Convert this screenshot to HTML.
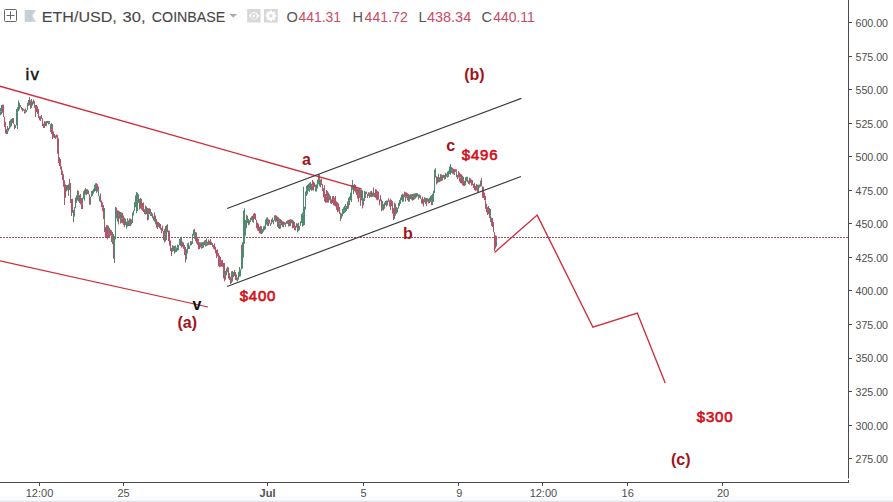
<!DOCTYPE html>
<html><head><meta charset="utf-8"><style>
html,body{margin:0;padding:0;background:#fff;width:893px;height:502px;overflow:hidden}
svg{display:block}
text{font-family:"Liberation Sans",Arial,sans-serif}
</style></head><body>
<svg width="893" height="502" viewBox="0 0 893 502">
<rect width="893" height="502" fill="#fff"/>
<rect y="496" width="893" height="4" fill="#fafbfc"/>
<rect y="500" width="893" height="1" fill="#f3f4f5"/>
<rect y="501" width="893" height="1" fill="#e5e6e9"/>
<!-- last price dotted line -->
<line x1="0" y1="237.5" x2="848" y2="237.5" stroke="#9c5163" stroke-width="1" stroke-dasharray="2 1"/>
<!-- candles -->
<g stroke-width="1"><path d="M0.5 108.0V111.3M0.5 111.3V115.2M1.5 111.7V114.4M1.5 105.0V111.7" stroke="#4e8a6f" fill="none"/><path d="M2.5 104.6V108.5M2.5 107.0V112.8M3.5 104.7V115.4M3.5 109.7V116.9M4.5 116.7V124.6M4.5 119.6V127.1M5.5 121.8V125.6M5.5 125.6V133.3M6.5 129.3V133.7" stroke="#b0566a" fill="none"/><path d="M6.5 129.4V134.0" stroke="#4e8a6f" fill="none"/><path d="M7.5 130.3V134.0M7.5 126.1V130.3" stroke="#b0566a" fill="none"/><path d="M8.5 129.4V131.3M8.5 127.9V130.0M9.5 125.6V129.1M9.5 121.0V125.6M10.5 123.4V127.4M10.5 119.6V124.7M11.5 123.6V126.2M11.5 118.9V124.6" stroke="#4e8a6f" fill="none"/><path d="M12.5 118.0V123.0" stroke="#b0566a" fill="none"/><path d="M12.5 118.0V121.6" stroke="#4e8a6f" fill="none"/><path d="M13.5 118.0V123.9M13.5 120.4V124.2M14.5 124.2V128.4M14.5 127.2V129.3" stroke="#b0566a" fill="none"/><path d="M15.5 125.0V128.0M15.5 125.3V127.1M16.5 117.5V125.3M16.5 109.0V118.2M17.5 112.5V129.0M17.5 107.2V112.5M18.5 105.2V111.3M18.5 100.5V106.1M19.5 106.1V109.5M19.5 102.8V106.1M20.5 105.0V107.2" stroke="#4e8a6f" fill="none"/><path d="M20.5 105.7V107.4M21.5 107.4V109.6M21.5 107.0V108.6M22.5 108.6V111.5" stroke="#b0566a" fill="none"/><path d="M22.5 108.2V110.0" stroke="#4e8a6f" fill="none"/><path d="M23.5 108.6V110.3M23.5 109.1V110.5M24.5 109.5V111.6M24.5 111.6V113.7" stroke="#b0566a" fill="none"/><path d="M25.5 110.7V113.1" stroke="#4e8a6f" fill="none"/><path d="M25.5 108.6V110.7" stroke="#b0566a" fill="none"/><path d="M26.5 110.1V111.9M26.5 109.9V111.3M27.5 107.0V110.1M27.5 102.8V107.0M28.5 100.4V103.1" stroke="#4e8a6f" fill="none"/><path d="M28.5 100.1V105.8" stroke="#b0566a" fill="none"/><path d="M29.5 98.8V105.4M29.5 97.0V100.2M30.5 100.2V105.3M30.5 103.2V109.0" stroke="#4e8a6f" fill="none"/><path d="M31.5 102.7V108.0M31.5 99.0V102.9" stroke="#b0566a" fill="none"/><path d="M32.5 102.8V105.6M32.5 101.4V103.9" stroke="#4e8a6f" fill="none"/><path d="M33.5 99.5V101.6M33.5 100.0V103.8M34.5 103.1V107.8" stroke="#b0566a" fill="none"/><path d="M34.5 101.1V105.0" stroke="#4e8a6f" fill="none"/><path d="M35.5 105.0V113.0M35.5 108.4V117.0M36.5 105.0V112.1M36.5 105.5V109.5M37.5 109.5V114.0M37.5 106.5V111.4M38.5 109.0V113.6M38.5 113.2V118.1M39.5 116.4V120.0M39.5 116.9V120.3M40.5 116.2V120.7M40.5 117.7V121.0M41.5 115.0V118.7M41.5 116.0V118.3M42.5 118.3V124.0M42.5 121.0V126.0M43.5 123.7V128.0M43.5 124.3V128.0M44.5 123.4V128.0M44.5 121.3V125.5" stroke="#b0566a" fill="none"/><path d="M45.5 122.1V126.0M45.5 121.5V124.1" stroke="#4e8a6f" fill="none"/><path d="M46.5 124.1V126.2" stroke="#b0566a" fill="none"/><path d="M46.5 121.0V124.1" stroke="#4e8a6f" fill="none"/><path d="M47.5 121.0V122.9M47.5 121.0V123.2M48.5 122.9V124.3" stroke="#b0566a" fill="none"/><path d="M48.5 121.0V122.9M49.5 121.0V122.5M49.5 122.5V124.1M50.5 124.1V128.0" stroke="#4e8a6f" fill="none"/><path d="M50.5 127.7V132.0M51.5 129.7V134.1" stroke="#b0566a" fill="none"/><path d="M51.5 123.2V129.7" stroke="#4e8a6f" fill="none"/><path d="M52.5 124.0V133.3M52.5 132.8V139.1M53.5 133.3V137.5M53.5 131.5V134.6M54.5 134.0V137.1M54.5 134.4V138.0M55.5 136.4V138.5" stroke="#b0566a" fill="none"/><path d="M55.5 135.4V138.6" stroke="#4e8a6f" fill="none"/><path d="M56.5 134.7V137.7M56.5 134.8V137.0M57.5 135.0V140.0M57.5 140.0V153.7M58.5 138.3V147.5M58.5 147.5V163.0M59.5 158.8V166.0M59.5 157.3V162.9M60.5 159.0V166.1M60.5 163.3V169.5M61.5 168.9V175.0M61.5 166.4V170.8M62.5 170.8V180.2M62.5 170.6V175.2M63.5 175.2V186.8M63.5 174.2V180.3M64.5 180.3V205.0M64.5 187.7V203.8M65.5 184.4V197.6M65.5 185.0V190.0" stroke="#b0566a" fill="none"/><path d="M66.5 185.4V191.4M66.5 185.2V188.9M67.5 185.1V190.3M67.5 185.0V189.7M68.5 189.7V196.0M68.5 184.4V192.0" stroke="#4e8a6f" fill="none"/><path d="M69.5 180.5V190.2M69.5 179.0V187.5M70.5 187.5V203.0M70.5 183.0V199.4M71.5 199.1V212.7M71.5 202.2V216.0M72.5 198.8V208.8M72.5 203.8V212.8M73.5 212.6V222.2" stroke="#b0566a" fill="none"/><path d="M73.5 210.0V219.4M74.5 207.5V216.6M74.5 207.1V213.8M75.5 197.5V207.1M75.5 203.0V208.2M76.5 195.3V203.0M76.5 196.8V202.8M77.5 195.1V200.5M77.5 190.3V195.1M78.5 195.1V201.5" stroke="#4e8a6f" fill="none"/><path d="M78.5 191.0V195.1M79.5 195.1V202.5M79.5 197.6V203.0M80.5 193.9V198.9M80.5 194.3V204.4M81.5 199.6V209.0M81.5 198.1V203.9M82.5 203.9V209.1" stroke="#b0566a" fill="none"/><path d="M82.5 197.7V203.9M83.5 192.0V198.6M83.5 191.2V196.0M84.5 195.8V200.6M84.5 189.6V195.8M85.5 188.8V194.7" stroke="#4e8a6f" fill="none"/><path d="M85.5 188.0V193.9" stroke="#b0566a" fill="none"/><path d="M86.5 189.2V194.3M86.5 191.5V195.4M87.5 189.2V193.0" stroke="#4e8a6f" fill="none"/><path d="M87.5 191.3V194.0M88.5 190.4V193.3M88.5 191.0V194.4M89.5 194.3V200.9M89.5 196.9V204.7M90.5 200.8V204.7" stroke="#b0566a" fill="none"/><path d="M90.5 196.8V202.9M91.5 192.3V196.8M91.5 191.0V194.5M92.5 190.5V195.0M92.5 193.4V195.8M93.5 188.7V193.4M93.5 189.8V193.7M94.5 187.3V191.8M94.5 184.7V187.7M95.5 183.3V186.4M95.5 185.9V191.0M96.5 188.0V192.8" stroke="#4e8a6f" fill="none"/><path d="M96.5 183.1V188.0M97.5 184.2V190.7M97.5 186.4V191.5M98.5 186.5V190.1" stroke="#b0566a" fill="none"/><path d="M98.5 190.1V196.3" stroke="#4e8a6f" fill="none"/><path d="M99.5 195.8V199.0" stroke="#b0566a" fill="none"/><path d="M99.5 196.2V201.3" stroke="#4e8a6f" fill="none"/><path d="M100.5 197.3V202.5M100.5 193.4V201.5M101.5 201.5V206.6M101.5 200.5V207.1M102.5 202.4V207.7M102.5 207.7V211.2M103.5 208.6V219.1M103.5 205.1V212.6" stroke="#b0566a" fill="none"/><path d="M104.5 208.0V219.8" stroke="#4e8a6f" fill="none"/><path d="M104.5 219.8V232.2" stroke="#b0566a" fill="none"/><path d="M105.5 227.1V234.8" stroke="#4e8a6f" fill="none"/><path d="M105.5 229.4V237.4M106.5 225.1V235.2M106.5 230.9V237.1M107.5 234.8V239.4M107.5 225.2V234.8" stroke="#b0566a" fill="none"/><path d="M108.5 225.8V233.5" stroke="#4e8a6f" fill="none"/><path d="M108.5 232.9V237.6M109.5 233.8V237.8M109.5 227.8V233.8M110.5 230.1V234.6M110.5 229.5V235.6M111.5 230.3V235.5M111.5 235.5V242.0M112.5 232.0V237.0" stroke="#b0566a" fill="none"/><path d="M112.5 233.0V244.2" stroke="#4e8a6f" fill="none"/><path d="M113.5 234.0V240.6M113.5 240.6V258.8" stroke="#b0566a" fill="none"/><path d="M114.5 236.0V252.9M114.5 239.4V263.0M115.5 213.9V239.4M115.5 207.0V221.3" stroke="#4e8a6f" fill="none"/><path d="M116.5 207.5V217.8" stroke="#b0566a" fill="none"/><path d="M116.5 211.5V218.5M117.5 212.7V221.5" stroke="#4e8a6f" fill="none"/><path d="M117.5 210.3V217.1M118.5 210.7V215.8M118.5 215.8V224.5" stroke="#b0566a" fill="none"/><path d="M119.5 211.3V218.7" stroke="#4e8a6f" fill="none"/><path d="M119.5 213.8V217.9" stroke="#b0566a" fill="none"/><path d="M120.5 212.0V219.4M120.5 216.4V223.6M121.5 212.4V218.3" stroke="#4e8a6f" fill="none"/><path d="M121.5 218.3V222.8M122.5 212.9V218.3M122.5 218.3V223.3M123.5 220.9V225.2M123.5 215.4V222.5M124.5 220.6V227.2M124.5 217.8V222.9M125.5 218.8V225.2" stroke="#b0566a" fill="none"/><path d="M125.5 218.7V224.7M126.5 224.7V228.7M126.5 221.7V228.0M127.5 218.2V221.7M127.5 221.7V226.7" stroke="#4e8a6f" fill="none"/><path d="M128.5 222.4V226.0" stroke="#b0566a" fill="none"/><path d="M128.5 220.4V224.8" stroke="#4e8a6f" fill="none"/><path d="M129.5 218.3V222.9" stroke="#b0566a" fill="none"/><path d="M129.5 222.8V226.0M130.5 218.7V222.8M130.5 221.6V226.0M131.5 219.8V223.6" stroke="#4e8a6f" fill="none"/><path d="M131.5 219.4V224.5" stroke="#b0566a" fill="none"/><path d="M132.5 220.0V223.0M132.5 212.5V220.0" stroke="#4e8a6f" fill="none"/><path d="M133.5 210.7V213.9" stroke="#b0566a" fill="none"/><path d="M133.5 210.8V215.5M134.5 205.6V210.8M134.5 202.2V210.9M135.5 198.8V207.2M135.5 195.4V201.9M136.5 201.9V213.0M136.5 192.0V201.9M137.5 192.8V199.6M137.5 199.6V211.0" stroke="#4e8a6f" fill="none"/><path d="M138.5 194.2V199.7" stroke="#b0566a" fill="none"/><path d="M138.5 195.0V202.9M139.5 202.0V209.5" stroke="#4e8a6f" fill="none"/><path d="M139.5 198.8V203.9M140.5 203.7V208.5M140.5 198.0V204.9" stroke="#b0566a" fill="none"/><path d="M141.5 198.9V204.6" stroke="#4e8a6f" fill="none"/><path d="M141.5 203.6V209.7M142.5 203.1V207.4M142.5 207.4V210.9M143.5 202.4V208.0M143.5 208.0V212.0M144.5 209.2V212.6M144.5 210.9V213.9M145.5 205.5V211.7" stroke="#b0566a" fill="none"/><path d="M145.5 207.8V214.5" stroke="#4e8a6f" fill="none"/><path d="M146.5 206.5V213.5M146.5 207.9V214.1M147.5 214.1V220.3" stroke="#b0566a" fill="none"/><path d="M147.5 207.9V215.4M148.5 214.7V219.8" stroke="#4e8a6f" fill="none"/><path d="M148.5 208.3V214.7" stroke="#b0566a" fill="none"/><path d="M149.5 208.4V214.2" stroke="#4e8a6f" fill="none"/><path d="M149.5 208.6V213.3" stroke="#b0566a" fill="none"/><path d="M150.5 213.3V215.9M150.5 208.9V213.3" stroke="#4e8a6f" fill="none"/><path d="M151.5 212.0V215.1" stroke="#b0566a" fill="none"/><path d="M151.5 213.1V216.2" stroke="#4e8a6f" fill="none"/><path d="M152.5 213.5V217.2M152.5 213.9V218.3M153.5 216.3V219.4" stroke="#b0566a" fill="none"/><path d="M153.5 217.4V220.5M154.5 217.2V221.6" stroke="#4e8a6f" fill="none"/><path d="M154.5 212.4V217.9" stroke="#b0566a" fill="none"/><path d="M155.5 217.9V224.4" stroke="#4e8a6f" fill="none"/><path d="M155.5 215.5V220.5M156.5 220.5V227.5M156.5 219.2V224.9M157.5 224.9V229.1M157.5 221.7V226.6M158.5 222.0V226.8M158.5 223.2V226.6M159.5 223.0V228.3" stroke="#b0566a" fill="none"/><path d="M159.5 223.5V227.6" stroke="#4e8a6f" fill="none"/><path d="M160.5 224.0V227.1M160.5 225.1V229.6M161.5 229.6V233.2M161.5 227.9V231.5M162.5 225.6V230.7M162.5 226.0V231.2M163.5 230.9V235.3M163.5 233.2V240.2M164.5 228.9V236.4M164.5 236.4V242.3" stroke="#b0566a" fill="none"/><path d="M165.5 234.3V241.5M165.5 226.0V234.3M166.5 232.6V240.0M166.5 225.1V234.0M167.5 224.7V232.3" stroke="#4e8a6f" fill="none"/><path d="M167.5 224.3V230.4M168.5 230.4V238.9M168.5 235.3V241.2M169.5 230.8V236.0M169.5 236.0V245.7M170.5 240.4V248.0M170.5 247.1V251.1M171.5 248.5V254.2M171.5 248.1V256.0M172.5 245.1V251.7" stroke="#b0566a" fill="none"/><path d="M172.5 245.5V249.8" stroke="#4e8a6f" fill="none"/><path d="M173.5 245.8V250.9" stroke="#b0566a" fill="none"/><path d="M173.5 246.2V251.1M174.5 249.8V253.5M174.5 245.9V250.1" stroke="#4e8a6f" fill="none"/><path d="M175.5 245.6V248.5" stroke="#b0566a" fill="none"/><path d="M175.5 248.3V252.3M176.5 247.8V251.9M176.5 247.7V251.5M177.5 244.4V247.7M177.5 247.6V250.7M178.5 245.4V250.1M178.5 245.4V249.5M179.5 240.0V245.4M179.5 238.9V244.9M180.5 237.8V240.8M180.5 240.1V245.9M181.5 236.7V243.0" stroke="#4e8a6f" fill="none"/><path d="M181.5 241.8V247.7M182.5 241.5V246.1M182.5 242.6V246.8M183.5 242.5V246.3M183.5 243.9V248.8M184.5 245.0V249.1M184.5 246.1V254.9M185.5 247.1V252.1M185.5 252.1V262.4" stroke="#b0566a" fill="none"/><path d="M186.5 255.0V259.5M186.5 249.1V256.0M187.5 247.4V253.4M187.5 243.3V247.4M188.5 244.8V249.0M188.5 242.5V246.2M189.5 246.2V248.9M189.5 245.6V248.3M190.5 241.4V245.6" stroke="#4e8a6f" fill="none"/><path d="M190.5 241.0V243.6" stroke="#b0566a" fill="none"/><path d="M191.5 241.5V245.0M191.5 241.6V245.2M192.5 240.3V243.9M192.5 233.9V240.3M193.5 231.5V235.0M193.5 229.6V235.5M194.5 233.9V238.8" stroke="#4e8a6f" fill="none"/><path d="M194.5 228.9V233.9" stroke="#b0566a" fill="none"/><path d="M195.5 231.9V235.8" stroke="#4e8a6f" fill="none"/><path d="M195.5 235.8V241.2M196.5 232.5V237.5M196.5 237.5V243.5M197.5 240.9V244.9M197.5 237.1V242.8M198.5 238.8V241.6M198.5 241.6V249.3M199.5 242.3V246.6M199.5 245.8V249.1" stroke="#b0566a" fill="none"/><path d="M200.5 242.3V245.8" stroke="#4e8a6f" fill="none"/><path d="M200.5 245.1V247.4M201.5 246.4V248.7" stroke="#b0566a" fill="none"/><path d="M201.5 242.3V246.4M202.5 242.3V246.0" stroke="#4e8a6f" fill="none"/><path d="M202.5 245.8V248.2" stroke="#b0566a" fill="none"/><path d="M203.5 241.8V245.8M203.5 245.1V247.7" stroke="#4e8a6f" fill="none"/><path d="M204.5 240.9V245.1M204.5 240.5V244.1M205.5 240.0V242.3" stroke="#b0566a" fill="none"/><path d="M205.5 242.3V246.4M206.5 243.5V246.1M206.5 238.6V243.5" stroke="#4e8a6f" fill="none"/><path d="M207.5 242.3V245.4" stroke="#b0566a" fill="none"/><path d="M207.5 241.7V245.1M208.5 242.6V245.0" stroke="#4e8a6f" fill="none"/><path d="M208.5 239.6V243.3" stroke="#b0566a" fill="none"/><path d="M209.5 241.3V245.0" stroke="#4e8a6f" fill="none"/><path d="M209.5 240.8V244.4M210.5 241.3V245.0M210.5 239.0V241.7M211.5 241.7V245.0" stroke="#b0566a" fill="none"/><path d="M211.5 241.9V245.0" stroke="#4e8a6f" fill="none"/><path d="M212.5 243.1V245.9M212.5 243.8V246.9M213.5 245.1V247.8M213.5 245.2V248.8M214.5 247.0V249.7M214.5 243.4V248.8M215.5 246.7V251.6M215.5 248.0V253.4M216.5 250.0V255.7M216.5 253.8V258.1M217.5 249.3V255.6M217.5 252.0V256.4M218.5 253.2V258.1M218.5 258.1V266.2M219.5 255.6V260.2M219.5 260.2V267.3M220.5 257.0V262.8M220.5 262.8V266.8M221.5 262.1V266.5M221.5 260.2V263.1M222.5 261.0V266.9M222.5 259.8V265.9M223.5 262.9V269.1M223.5 269.1V278.3M224.5 275.6V281.4M224.5 263.0V275.6M225.5 272.5V279.7" stroke="#b0566a" fill="none"/><path d="M225.5 271.0V276.9M226.5 268.5V275.3M226.5 269.2V274.7M227.5 269.8V272.4" stroke="#4e8a6f" fill="none"/><path d="M227.5 266.7V269.8M228.5 267.4V273.0M228.5 272.1V278.5M229.5 273.1V279.9M229.5 273.8V280.1M230.5 278.0V282.6M230.5 276.7V284.0" stroke="#b0566a" fill="none"/><path d="M231.5 271.4V277.6M231.5 277.6V283.2M232.5 270.9V277.6" stroke="#4e8a6f" fill="none"/><path d="M232.5 276.5V281.7" stroke="#b0566a" fill="none"/><path d="M233.5 273.9V277.0M233.5 272.0V277.2" stroke="#4e8a6f" fill="none"/><path d="M234.5 270.0V276.0M234.5 270.0V274.7M235.5 272.0V276.8M235.5 275.8V279.9M236.5 277.8V280.4M236.5 274.5V277.8" stroke="#b0566a" fill="none"/><path d="M237.5 277.5V281.2M237.5 277.8V281.4M238.5 271.8V277.8M238.5 275.5V279.7M239.5 272.0V276.8M239.5 267.0V272.0M240.5 269.9V276.4M240.5 269.4V275.0M241.5 251.0V269.4" stroke="#4e8a6f" fill="none"/><path d="M241.5 244.8V252.6" stroke="#b0566a" fill="none"/><path d="M242.5 252.6V268.7M242.5 242.3V264.6M243.5 237.9V257.7M243.5 210.6V237.9M244.5 226.9V243.8M244.5 208.3V226.9M245.5 220.0V235.7M245.5 220.7V232.3M246.5 214.6V220.7M246.5 220.7V228.2M247.5 215.7V223.1" stroke="#4e8a6f" fill="none"/><path d="M247.5 216.2V219.5" stroke="#b0566a" fill="none"/><path d="M248.5 218.8V223.5" stroke="#4e8a6f" fill="none"/><path d="M248.5 221.8V225.2" stroke="#b0566a" fill="none"/><path d="M249.5 220.3V224.5M249.5 222.0V223.8M250.5 218.3V222.0" stroke="#4e8a6f" fill="none"/><path d="M250.5 217.7V220.5" stroke="#b0566a" fill="none"/><path d="M251.5 217.5V219.5M251.5 216.3V219.9" stroke="#4e8a6f" fill="none"/><path d="M252.5 215.7V218.3" stroke="#b0566a" fill="none"/><path d="M252.5 217.5V221.8M253.5 218.3V222.7" stroke="#4e8a6f" fill="none"/><path d="M253.5 213.7V219.3" stroke="#b0566a" fill="none"/><path d="M254.5 213.0V218.3" stroke="#4e8a6f" fill="none"/><path d="M254.5 213.4V219.0M255.5 213.7V219.9M255.5 214.4V219.8M256.5 219.8V227.1M256.5 223.9V228.2M257.5 222.6V229.4M257.5 224.8V230.5M258.5 223.6V231.2M258.5 225.4V229.4M259.5 227.7V232.6M259.5 226.8V233.3M260.5 225.8V230.5M260.5 228.9V233.8M261.5 226.4V229.0" stroke="#b0566a" fill="none"/><path d="M261.5 229.0V234.1" stroke="#4e8a6f" fill="none"/><path d="M262.5 229.2V233.4" stroke="#b0566a" fill="none"/><path d="M262.5 229.7V232.3M263.5 226.3V230.1M263.5 228.9V231.7M264.5 225.8V229.0M264.5 226.5V230.1M265.5 226.2V229.2M265.5 219.6V226.2M266.5 217.7V223.2M266.5 218.9V224.6M267.5 217.4V221.7M267.5 221.7V226.0" stroke="#4e8a6f" fill="none"/><path d="M268.5 222.3V226.0M268.5 219.2V222.3M269.5 219.8V222.5M269.5 220.4V223.6" stroke="#b0566a" fill="none"/><path d="M270.5 223.6V226.0M270.5 223.4V225.2" stroke="#4e8a6f" fill="none"/><path d="M271.5 219.3V223.4M271.5 221.4V224.3" stroke="#b0566a" fill="none"/><path d="M272.5 218.2V222.4M272.5 217.6V220.2" stroke="#4e8a6f" fill="none"/><path d="M273.5 220.2V224.3" stroke="#b0566a" fill="none"/><path d="M273.5 220.2V223.7M274.5 215.9V220.2M274.5 215.3V220.5M275.5 217.6V222.0" stroke="#4e8a6f" fill="none"/><path d="M275.5 215.2V219.2" stroke="#b0566a" fill="none"/><path d="M276.5 215.6V221.5" stroke="#4e8a6f" fill="none"/><path d="M276.5 216.0V219.7M277.5 216.6V222.6M277.5 221.4V226.9M278.5 217.3V221.4M278.5 221.4V228.3" stroke="#b0566a" fill="none"/><path d="M279.5 223.5V229.0M279.5 218.6V223.5M280.5 219.0V223.6M280.5 223.6V228.6M281.5 219.9V224.5" stroke="#4e8a6f" fill="none"/><path d="M281.5 220.3V225.2M282.5 221.2V225.5M282.5 224.8V227.0M283.5 221.6V224.8" stroke="#b0566a" fill="none"/><path d="M283.5 224.8V227.2" stroke="#4e8a6f" fill="none"/><path d="M284.5 222.2V224.8M284.5 222.0V224.4" stroke="#b0566a" fill="none"/><path d="M285.5 224.4V226.9M285.5 222.6V224.7" stroke="#4e8a6f" fill="none"/><path d="M286.5 221.2V223.8M286.5 221.2V223.1" stroke="#b0566a" fill="none"/><path d="M287.5 220.8V223.9M287.5 220.5V222.9" stroke="#4e8a6f" fill="none"/><path d="M288.5 222.9V226.4M288.5 220.0V222.9" stroke="#b0566a" fill="none"/><path d="M289.5 222.9V226.3" stroke="#4e8a6f" fill="none"/><path d="M289.5 219.5V223.8" stroke="#b0566a" fill="none"/><path d="M290.5 219.2V222.1M290.5 221.9V226.1" stroke="#4e8a6f" fill="none"/><path d="M291.5 219.9V223.3M291.5 219.4V222.1" stroke="#b0566a" fill="none"/><path d="M292.5 219.8V224.2" stroke="#4e8a6f" fill="none"/><path d="M292.5 224.2V228.3M293.5 220.7V224.2M293.5 223.3V227.9M294.5 227.3V230.1M294.5 221.9V227.3M295.5 226.8V230.5M295.5 225.8V228.5M296.5 223.2V226.8" stroke="#b0566a" fill="none"/><path d="M296.5 223.6V227.6" stroke="#4e8a6f" fill="none"/><path d="M297.5 223.7V228.4" stroke="#b0566a" fill="none"/><path d="M297.5 228.2V232.3M298.5 226.4V231.1M298.5 222.7V227.2M299.5 227.2V230.1M299.5 226.0V229.7M300.5 222.8V226.0M300.5 221.3V223.7M301.5 221.0V223.1M301.5 214.1V221.0M302.5 216.9V226.6M302.5 212.7V221.4M303.5 214.7V225.8M303.5 186.7V214.7M304.5 211.7V225.0M304.5 206.8V217.8M305.5 201.0V209.5M305.5 191.5V201.0M306.5 189.8V196.0M306.5 185.7V189.8M307.5 188.3V194.3M307.5 184.8V190.2M308.5 185.1V190.8M308.5 183.8V188.4M309.5 188.4V191.9" stroke="#4e8a6f" fill="none"/><path d="M309.5 182.8V188.4M310.5 184.7V189.8" stroke="#b0566a" fill="none"/><path d="M310.5 181.9V187.5M311.5 187.0V190.8M311.5 183.8V188.6" stroke="#4e8a6f" fill="none"/><path d="M312.5 185.4V190.3M312.5 180.0V185.4M313.5 185.4V190.7M313.5 181.6V186.2M314.5 182.6V187.0M314.5 183.7V186.6" stroke="#b0566a" fill="none"/><path d="M315.5 184.7V187.8M315.5 187.8V191.5M316.5 184.3V188.9M316.5 187.1V191.5M317.5 179.6V187.1M317.5 184.3V188.6M318.5 174.9V184.3M318.5 174.0V181.0" stroke="#4e8a6f" fill="none"/><path d="M319.5 174.6V179.9" stroke="#b0566a" fill="none"/><path d="M319.5 179.9V186.3M320.5 179.6V182.9" stroke="#4e8a6f" fill="none"/><path d="M320.5 182.9V187.3M321.5 178.6V182.9M321.5 179.6V185.0M322.5 185.0V191.2M322.5 184.2V191.0M323.5 188.3V195.3M323.5 189.7V197.3M324.5 185.2V190.1M324.5 190.1V201.4M325.5 195.0V202.6M325.5 194.0V202.6M326.5 196.5V202.6M326.5 190.0V196.5M327.5 190.9V196.0M327.5 196.0V202.6" stroke="#b0566a" fill="none"/><path d="M328.5 192.6V196.2M328.5 196.2V202.6" stroke="#4e8a6f" fill="none"/><path d="M329.5 194.3V199.5M329.5 195.8V200.2" stroke="#b0566a" fill="none"/><path d="M330.5 196.0V200.3" stroke="#4e8a6f" fill="none"/><path d="M330.5 199.7V203.3M331.5 199.3V203.6M331.5 200.1V204.0M332.5 196.0V200.1M332.5 199.4V203.0M333.5 196.0V199.4M333.5 199.4V205.3M334.5 199.5V205.7M334.5 197.7V202.8M335.5 196.0V202.6M335.5 199.3V206.5M336.5 202.9V209.8M336.5 201.4V208.7M337.5 207.7V212.3M337.5 202.3V207.7M338.5 203.5V209.5M338.5 205.1V211.4M339.5 206.9V213.9M339.5 208.8V212.5M340.5 212.5V221.0" stroke="#b0566a" fill="none"/><path d="M340.5 215.2V219.8" stroke="#4e8a6f" fill="none"/><path d="M341.5 214.0V218.7" stroke="#b0566a" fill="none"/><path d="M341.5 213.5V217.5M342.5 213.8V216.3M342.5 209.0V213.8M343.5 210.6V214.0M343.5 207.3V210.6M344.5 210.3V213.0M344.5 205.7V210.3M345.5 207.6V211.9M345.5 204.0V207.6" stroke="#4e8a6f" fill="none"/><path d="M346.5 206.2V210.9" stroke="#b0566a" fill="none"/><path d="M346.5 206.7V210.4M347.5 206.4V209.0M347.5 201.5V206.9" stroke="#4e8a6f" fill="none"/><path d="M348.5 202.6V208.6" stroke="#b0566a" fill="none"/><path d="M348.5 197.8V202.6M349.5 196.5V200.2M349.5 200.2V205.2M350.5 193.9V200.2M350.5 192.6V199.2M351.5 198.0V201.9M351.5 185.2V198.0M352.5 180.0V189.8M352.5 180.0V184.9M353.5 184.9V193.8M353.5 189.8V194.1" stroke="#4e8a6f" fill="none"/><path d="M354.5 183.9V189.8M354.5 184.7V191.2M355.5 185.0V190.7M355.5 189.0V192.6M356.5 187.0V191.1M356.5 191.1V194.9M357.5 194.5V198.5M357.5 188.4V195.2M358.5 188.6V194.6M358.5 194.6V202.1" stroke="#b0566a" fill="none"/><path d="M359.5 188.9V194.8" stroke="#4e8a6f" fill="none"/><path d="M359.5 192.3V197.9M360.5 197.9V205.8" stroke="#b0566a" fill="none"/><path d="M360.5 189.5V197.9M361.5 189.7V197.3" stroke="#4e8a6f" fill="none"/><path d="M361.5 189.9V200.4M362.5 197.1V208.4" stroke="#b0566a" fill="none"/><path d="M362.5 190.3V200.3M363.5 200.3V205.4M363.5 198.3V203.9M364.5 190.9V198.3M364.5 196.8V201.0M365.5 195.3V198.0M365.5 191.5V195.3M366.5 191.7V194.0" stroke="#4e8a6f" fill="none"/><path d="M366.5 191.9V193.8M367.5 193.8V196.4M367.5 195.7V198.0M368.5 192.4V195.7" stroke="#b0566a" fill="none"/><path d="M368.5 192.6V195.7M369.5 194.9V198.0" stroke="#4e8a6f" fill="none"/><path d="M369.5 192.6V194.9" stroke="#b0566a" fill="none"/><path d="M370.5 194.7V196.9" stroke="#4e8a6f" fill="none"/><path d="M370.5 191.3V194.8" stroke="#b0566a" fill="none"/><path d="M371.5 190.7V194.6" stroke="#4e8a6f" fill="none"/><path d="M371.5 192.7V197.2M372.5 192.9V196.9" stroke="#b0566a" fill="none"/><path d="M372.5 192.6V196.7M373.5 191.9V196.5" stroke="#4e8a6f" fill="none"/><path d="M373.5 187.5V193.0M374.5 193.0V196.6M374.5 193.6V197.2M375.5 193.0V197.9M375.5 189.1V193.0M376.5 189.6V193.1M376.5 193.1V199.7M377.5 196.6V200.4M377.5 191.1V197.3M378.5 191.7V197.7M378.5 195.4V199.6M379.5 199.5V203.4M379.5 199.9V205.3M380.5 195.1V199.9M380.5 196.6V201.2M381.5 201.2V211.1M381.5 199.5V204.1" stroke="#b0566a" fill="none"/><path d="M382.5 201.0V206.1M382.5 206.1V210.3M383.5 204.1V209.4M383.5 206.5V210.4" stroke="#4e8a6f" fill="none"/><path d="M384.5 202.4V206.5M384.5 205.2V208.8" stroke="#b0566a" fill="none"/><path d="M385.5 201.5V205.2M385.5 201.0V203.4M386.5 200.5V204.5M386.5 203.0V206.5M387.5 201.7V205.5M387.5 200.5V202.9" stroke="#4e8a6f" fill="none"/><path d="M388.5 198.7V201.9M388.5 198.2V200.7M389.5 200.4V204.0M389.5 201.4V206.7M390.5 198.8V202.2M390.5 202.2V210.0" stroke="#b0566a" fill="none"/><path d="M391.5 200.3V205.7" stroke="#4e8a6f" fill="none"/><path d="M391.5 200.2V206.2M392.5 206.2V213.6M392.5 201.2V208.1M393.5 208.1V218.3M393.5 211.9V220.0M394.5 202.6V213.3" stroke="#b0566a" fill="none"/><path d="M394.5 211.6V218.8M395.5 203.7V211.6" stroke="#4e8a6f" fill="none"/><path d="M395.5 210.1V215.7" stroke="#b0566a" fill="none"/><path d="M396.5 207.0V213.6M396.5 211.0V213.7" stroke="#4e8a6f" fill="none"/><path d="M397.5 209.6V212.5" stroke="#b0566a" fill="none"/><path d="M397.5 207.8V211.2M398.5 202.8V207.8M398.5 204.7V208.6M399.5 200.1V204.7M399.5 202.8V206.1M400.5 197.6V202.8M400.5 199.4V203.8M401.5 195.6V200.3M401.5 194.7V198.7M402.5 193.7V198.0M402.5 198.0V202.0M403.5 198.3V201.5" stroke="#4e8a6f" fill="none"/><path d="M403.5 194.4V198.7M404.5 191.7V197.1M404.5 191.9V197.1M405.5 192.2V196.3" stroke="#b0566a" fill="none"/><path d="M405.5 196.3V201.6M406.5 192.7V197.9" stroke="#4e8a6f" fill="none"/><path d="M406.5 192.9V196.8M407.5 193.2V196.5M407.5 196.4V200.3" stroke="#b0566a" fill="none"/><path d="M408.5 197.4V201.7" stroke="#4e8a6f" fill="none"/><path d="M408.5 193.9V198.7" stroke="#b0566a" fill="none"/><path d="M409.5 194.7V199.1M409.5 197.0V201.6" stroke="#4e8a6f" fill="none"/><path d="M410.5 194.6V198.7M410.5 194.4V199.0" stroke="#b0566a" fill="none"/><path d="M411.5 194.3V198.4M411.5 196.5V199.8" stroke="#4e8a6f" fill="none"/><path d="M412.5 194.0V196.5" stroke="#b0566a" fill="none"/><path d="M412.5 196.5V200.8M413.5 193.8V197.4" stroke="#4e8a6f" fill="none"/><path d="M413.5 196.1V200.0" stroke="#b0566a" fill="none"/><path d="M414.5 193.5V197.1" stroke="#4e8a6f" fill="none"/><path d="M414.5 197.1V199.3" stroke="#b0566a" fill="none"/><path d="M415.5 193.2V197.1M415.5 195.4V198.6" stroke="#4e8a6f" fill="none"/><path d="M416.5 193.0V195.4" stroke="#b0566a" fill="none"/><path d="M416.5 195.0V197.3" stroke="#4e8a6f" fill="none"/><path d="M417.5 193.4V195.7" stroke="#b0566a" fill="none"/><path d="M417.5 193.7V196.5" stroke="#4e8a6f" fill="none"/><path d="M418.5 196.5V199.6" stroke="#b0566a" fill="none"/><path d="M418.5 194.3V196.8M419.5 194.6V197.5M419.5 195.1V197.7" stroke="#4e8a6f" fill="none"/><path d="M420.5 195.3V198.4M420.5 195.5V198.6" stroke="#b0566a" fill="none"/><path d="M421.5 198.6V202.7" stroke="#4e8a6f" fill="none"/><path d="M421.5 199.8V203.5M422.5 199.7V204.2M422.5 196.5V200.1M423.5 199.2V204.6M423.5 201.1V206.5M424.5 197.3V202.3" stroke="#b0566a" fill="none"/><path d="M424.5 197.5V201.7M425.5 200.2V204.0M425.5 197.8V201.2" stroke="#4e8a6f" fill="none"/><path d="M426.5 198.0V200.9M426.5 200.9V206.2" stroke="#b0566a" fill="none"/><path d="M427.5 198.4V201.5" stroke="#4e8a6f" fill="none"/><path d="M427.5 198.5V201.5M428.5 199.9V203.4" stroke="#b0566a" fill="none"/><path d="M428.5 198.7V202.1" stroke="#4e8a6f" fill="none"/><path d="M429.5 199.3V203.0" stroke="#b0566a" fill="none"/><path d="M429.5 197.6V201.2M430.5 196.6V201.9M430.5 195.9V198.8M431.5 195.2V200.6" stroke="#4e8a6f" fill="none"/><path d="M431.5 200.6V205.2" stroke="#b0566a" fill="none"/><path d="M432.5 193.7V200.6M432.5 197.4V205.1M433.5 190.7V200.4M433.5 193.0V201.8M434.5 169.7V193.0M434.5 175.3V186.0M435.5 168.2V177.5M435.5 169.3V176.3" stroke="#4e8a6f" fill="none"/><path d="M436.5 176.3V184.4" stroke="#b0566a" fill="none"/><path d="M436.5 179.1V183.9" stroke="#4e8a6f" fill="none"/><path d="M437.5 176.8V183.3M437.5 179.9V182.9" stroke="#b0566a" fill="none"/><path d="M438.5 173.7V179.9M438.5 179.4V182.4M439.5 177.3V182.2" stroke="#4e8a6f" fill="none"/><path d="M439.5 177.9V181.9M440.5 174.2V178.0M440.5 178.0V181.5M441.5 174.4V178.3" stroke="#b0566a" fill="none"/><path d="M441.5 176.8V181.0M442.5 175.1V178.0" stroke="#4e8a6f" fill="none"/><path d="M442.5 177.8V180.5M443.5 175.6V177.9" stroke="#b0566a" fill="none"/><path d="M443.5 174.6V176.4M444.5 176.4V179.7M444.5 175.0V177.1" stroke="#4e8a6f" fill="none"/><path d="M445.5 177.0V179.1M445.5 172.8V177.0" stroke="#b0566a" fill="none"/><path d="M446.5 174.3V176.7M446.5 173.7V176.3M447.5 171.6V175.5M447.5 175.5V177.7M448.5 170.7V175.5M448.5 173.9V176.9M449.5 169.0V173.9M449.5 166.5V170.9M450.5 168.7V174.8M450.5 164.0V170.2M451.5 169.8V172.8M451.5 167.0V171.2" stroke="#4e8a6f" fill="none"/><path d="M452.5 167.7V170.7M452.5 170.7V173.7M453.5 168.8V172.0M453.5 172.0V174.5" stroke="#b0566a" fill="none"/><path d="M454.5 172.7V174.9" stroke="#4e8a6f" fill="none"/><path d="M454.5 169.1V172.7M455.5 169.9V171.8M455.5 169.3V171.6M456.5 169.4V171.7" stroke="#b0566a" fill="none"/><path d="M456.5 171.7V177.2" stroke="#4e8a6f" fill="none"/><path d="M457.5 174.9V178.1M457.5 176.3V179.0" stroke="#b0566a" fill="none"/><path d="M458.5 170.9V176.3" stroke="#4e8a6f" fill="none"/><path d="M458.5 171.5V177.5M459.5 177.5V181.6M459.5 172.6V177.5M460.5 177.5V183.2M460.5 173.7V177.5M461.5 174.4V180.3M461.5 177.4V183.5" stroke="#b0566a" fill="none"/><path d="M462.5 175.6V178.9" stroke="#4e8a6f" fill="none"/><path d="M462.5 178.9V185.2" stroke="#b0566a" fill="none"/><path d="M463.5 176.8V181.1" stroke="#4e8a6f" fill="none"/><path d="M463.5 181.1V186.0M464.5 182.0V186.0" stroke="#b0566a" fill="none"/><path d="M464.5 180.8V185.6" stroke="#4e8a6f" fill="none"/><path d="M465.5 182.0V185.2" stroke="#b0566a" fill="none"/><path d="M465.5 177.3V182.0M466.5 177.1V179.7M466.5 176.9V181.3M467.5 176.7V179.7" stroke="#4e8a6f" fill="none"/><path d="M467.5 179.7V182.3" stroke="#b0566a" fill="none"/><path d="M468.5 181.5V183.6M468.5 180.5V184.0" stroke="#4e8a6f" fill="none"/><path d="M469.5 177.7V181.9M469.5 180.7V184.6M470.5 178.5V182.7M470.5 178.9V182.5M471.5 182.5V185.7M471.5 179.6V183.0M472.5 180.0V183.3M472.5 182.5V185.2M473.5 184.7V188.1M473.5 184.0V186.6M474.5 182.9V186.6M474.5 185.7V190.2" stroke="#b0566a" fill="none"/><path d="M475.5 185.8V190.5" stroke="#4e8a6f" fill="none"/><path d="M475.5 187.3V190.8" stroke="#b0566a" fill="none"/><path d="M476.5 184.0V187.3" stroke="#4e8a6f" fill="none"/><path d="M476.5 186.9V190.4M477.5 184.7V187.3M477.5 187.3V192.2" stroke="#b0566a" fill="none"/><path d="M478.5 187.8V192.0M478.5 184.7V188.5M479.5 184.7V187.3M479.5 184.7V187.5M480.5 182.6V186.8M480.5 180.5V186.0" stroke="#4e8a6f" fill="none"/><path d="M481.5 179.1V183.5M481.5 178.0V186.3M482.5 186.3V194.8M482.5 193.3V197.8M483.5 186.8V194.1M483.5 191.4V198.0M484.5 192.7V198.8M484.5 193.8V200.2M485.5 196.0V200.6M485.5 200.6V208.8" stroke="#b0566a" fill="none"/><path d="M486.5 203.6V210.6" stroke="#4e8a6f" fill="none"/><path d="M486.5 206.5V212.3M487.5 207.1V214.0M487.5 208.3V215.0M488.5 208.8V214.1M488.5 206.0V210.8M489.5 210.8V218.0" stroke="#b0566a" fill="none"/><path d="M489.5 208.0V211.8M490.5 209.0V215.4M490.5 215.2V222.0" stroke="#4e8a6f" fill="none"/><path d="M491.5 217.5V224.0M491.5 222.2V226.0M492.5 220.9V226.9M492.5 218.0V222.2M493.5 222.2V228.4M493.5 224.1V232.2M494.5 232.2V251.0M494.5 232.2V238.6M495.5 235.3V245.3M495.5 243.9V248.6" stroke="#b0566a" fill="none"/><path d="M496.5 240.9V246.4" stroke="#4e8a6f" fill="none"/><path d="M496.5 235.8V240.9" stroke="#b0566a" fill="none"/></g>
<!-- trend lines -->
<line x1="0" y1="86.2" x2="361.6" y2="188.8" stroke="#cf2c3b" stroke-width="1.35"/>
<line x1="0" y1="260.9" x2="208" y2="307" stroke="#cf2c3b" stroke-width="1.2"/>
<line x1="227.1" y1="208.5" x2="521.3" y2="98.4" stroke="#3c3c3c" stroke-width="1.2"/>
<line x1="227.1" y1="286.5" x2="521" y2="176.5" stroke="#3c3c3c" stroke-width="1.2"/>
<polyline points="494.5,252.4 537.2,215.1 592.9,327.2 637.3,313 665.2,383.1" fill="none" stroke="#cf2c3b" stroke-width="1.35"/>
<!-- labels -->
<g font-weight="bold" font-size="16">
<text x="25.6" y="79.6" fill="#111" font-weight="normal" font-size="17" stroke="#111" stroke-width="0.45" letter-spacing="1.2">iv</text>
<text x="192.6" y="309.5" fill="#111">v</text>
<text x="177.5" y="327.5" fill="#a3131b">(a)</text>
<text x="302" y="164.7" fill="#a3131b">a</text>
<text x="403" y="239" fill="#a3131b">b</text>
<text x="446.2" y="150.8" fill="#a3131b">c</text>
<text x="464.2" y="79.8" fill="#a3131b">(b)</text>
<text x="671" y="464.5" fill="#a3131b">(c)</text>
</g>
<g font-size="15" fill="#d3101b" stroke="#d3101b" stroke-width="0.65" letter-spacing="0.8">
<text x="239.7" y="300.5">$400</text>
<text x="461.8" y="159.9">$496</text>
<text x="696.8" y="421.8">$300</text>
</g>
<!-- axes -->
<path d="M848.5 0V478.5M0 482.5H849M848.5 480V482.5 M848 22.5H852M848 56.5H852M848 89.5H852M848 123.5H852M848 156.5H852M848 190.5H852M848 223.5H852M848 257.5H852M848 290.5H852M848 324.5H852M848 358.5H852M848 391.5H852M848 425.5H852M848 458.5H852 M39.5 482V486M123.5 482V486M267.5 482V486M363.5 482V486M458.5 482V486M542.5 482V486M627.5 482V486M722.5 482V486" stroke="#4a4a4a" stroke-width="1" fill="none"/>
<g font-size="11" fill="#4e4e4e">
<text x="855.5" y="27.1" textLength="32.5" lengthAdjust="spacingAndGlyphs">600.00</text>
<text x="855.5" y="60.6" textLength="32.5" lengthAdjust="spacingAndGlyphs">575.00</text>
<text x="855.5" y="94.2" textLength="32.5" lengthAdjust="spacingAndGlyphs">550.00</text>
<text x="855.5" y="127.7" textLength="32.5" lengthAdjust="spacingAndGlyphs">525.00</text>
<text x="855.5" y="161.2" textLength="32.5" lengthAdjust="spacingAndGlyphs">500.00</text>
<text x="855.5" y="194.8" textLength="32.5" lengthAdjust="spacingAndGlyphs">475.00</text>
<text x="855.5" y="228.3" textLength="32.5" lengthAdjust="spacingAndGlyphs">450.00</text>
<text x="855.5" y="261.8" textLength="32.5" lengthAdjust="spacingAndGlyphs">425.00</text>
<text x="855.5" y="295.3" textLength="32.5" lengthAdjust="spacingAndGlyphs">400.00</text>
<text x="855.5" y="328.9" textLength="32.5" lengthAdjust="spacingAndGlyphs">375.00</text>
<text x="855.5" y="362.4" textLength="32.5" lengthAdjust="spacingAndGlyphs">350.00</text>
<text x="855.5" y="395.9" textLength="32.5" lengthAdjust="spacingAndGlyphs">325.00</text>
<text x="855.5" y="429.5" textLength="32.5" lengthAdjust="spacingAndGlyphs">300.00</text>
<text x="855.5" y="463.0" textLength="32.5" lengthAdjust="spacingAndGlyphs">275.00</text>
<text x="39.5" y="496.8" text-anchor="middle">12:00</text>
<text x="123.5" y="496.8" text-anchor="middle">25</text>
<text x="267.5" y="496.8" text-anchor="middle" font-weight="bold">Jul</text>
<text x="363.6" y="496.8" text-anchor="middle">5</text>
<text x="459.2" y="496.8" text-anchor="middle">9</text>
<text x="543.4" y="496.8" text-anchor="middle">12:00</text>
<text x="627.7" y="496.8" text-anchor="middle">16</text>
<text x="723.1" y="496.8" text-anchor="middle">20</text>
</g>
<!-- header -->
<rect x="4.5" y="9.5" width="12" height="12" rx="1" fill="none" stroke="#666" stroke-width="1"/>
<path d="M6.5 15.5H14.5M10.5 11.5V19.5" stroke="#666" stroke-width="1"/>
<polygon points="24.8,10 36.3,10 32.4,15.8 36.3,21.7 24.8,21.7" fill="#cfd2d6"/>
<rect x="24.8" y="10" width="6.6" height="11.7" fill="#c7d0dc"/>
<rect x="29.5" y="10" width="1" height="11.7" fill="#bac4d0"/>
<g font-size="15" fill="#474747" stroke="#474747" stroke-width="0.1">
<text x="41.8" y="21.5" textLength="75" lengthAdjust="spacingAndGlyphs">ETH/USD,</text>
<text x="122.5" y="21.5" textLength="23" lengthAdjust="spacingAndGlyphs">30,</text>
<text x="151.8" y="21.5" textLength="73.5" lengthAdjust="spacingAndGlyphs">COINBASE</text>
</g>
<polygon points="229.4,14.1 237.1,14.1 233.2,17.6" fill="#a8a8a8"/>
<rect x="247.2" y="9" width="13.4" height="13.5" fill="#d8d8d8"/>
<path d="M248.9 15.8Q254.1 8.4 259.3 15.8Q254.1 23.2 248.9 15.8Z" fill="#fff"/>
<circle cx="253.9" cy="15.9" r="2.9" fill="#d8d8d8"/>
<circle cx="253.9" cy="15.9" r="1.2" fill="#fff"/>
<rect x="264" y="9" width="13.8" height="13.5" fill="#d8d8d8"/>
<g transform="translate(270.9 15.8)" fill="#fff">
<circle r="3.6"/>
<rect x="-1.3" y="-5.3" width="2.6" height="10.6"/>
<rect x="-5.3" y="-1.3" width="10.6" height="2.6"/>
<rect x="-1.3" y="-5.3" width="2.6" height="10.6" transform="rotate(45)"/>
<rect x="-1.3" y="-5.3" width="2.6" height="10.6" transform="rotate(-45)"/>
<circle r="1.7" fill="#d8d8d8"/>
</g>
<g font-size="14.6">
<text x="286.6" y="21.6" fill="#555">O</text>
<text x="298.5" y="21.6" fill="#cc4b63" textLength="42.6" lengthAdjust="spacingAndGlyphs">441.31</text>
<text x="352.4" y="21.6" fill="#555">H</text>
<text x="364.6" y="21.6" fill="#cc4b63" textLength="43.2" lengthAdjust="spacingAndGlyphs">441.72</text>
<text x="418.5" y="21.6" fill="#555">L</text>
<text x="426.9" y="21.6" fill="#cc4b63" textLength="44.3" lengthAdjust="spacingAndGlyphs">438.34</text>
<text x="481.5" y="21.6" fill="#555">C</text>
<text x="493.2" y="21.6" fill="#cc4b63" textLength="41.6" lengthAdjust="spacingAndGlyphs">440.11</text>
</g>
</svg>
</body></html>
